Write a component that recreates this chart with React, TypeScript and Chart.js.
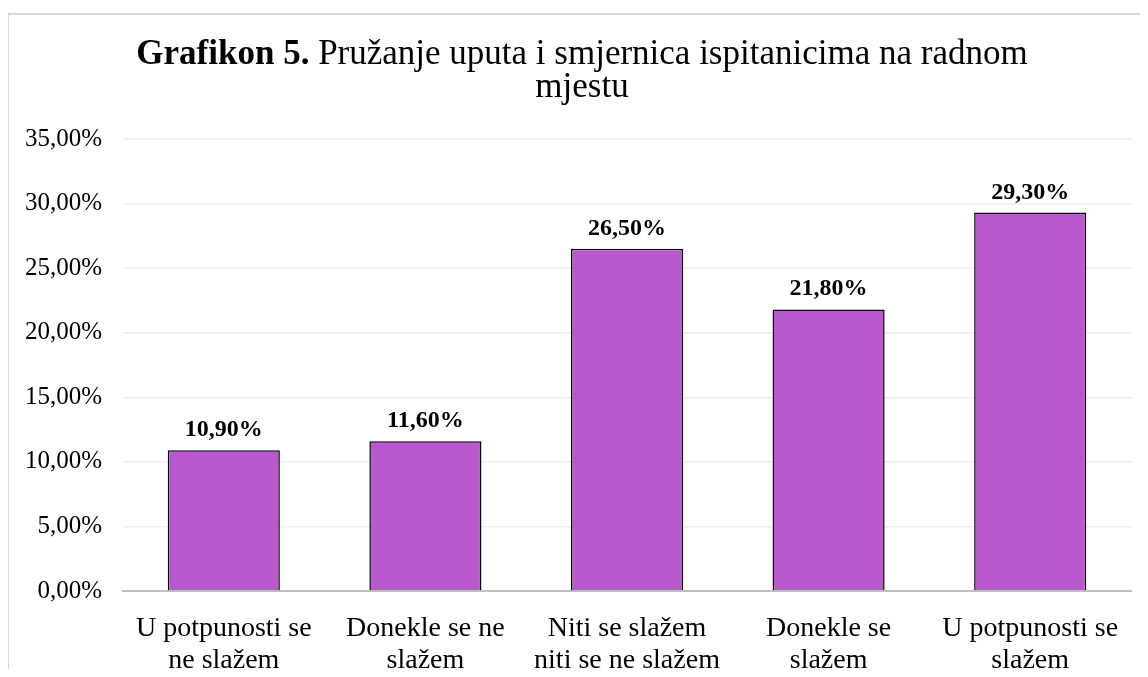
import React, { useEffect, useRef } from "react";
import { Chart, registerables } from "chart.js";

Chart.register(...registerables);

const categories: string[][] = [
  ["U potpunosti se", "ne slažem"],
  ["Donekle se ne", "slažem"],
  ["Niti se slažem", "niti se ne slažem"],
  ["Donekle se", "slažem"],
  ["U potpunosti se", "slažem"],
];
const values: number[] = [10.9, 11.6, 26.5, 21.8, 29.3];
const titleBold = "Grafikon 5.";
const titleRest = " Pružanje uputa i smjernica ispitanicima na radnom";
const titleLine2 = "mjestu";
const yMax = 35;
const yStep = 5;

const FONT = "'Liberation Serif', 'Times New Roman', serif";

const fmt = (v: number) => v.toFixed(2).replace(".", ",") + "%";

const titlePlugin = {
  id: "mixedTitle",
  afterDraw(chart: any) {
    const ctx = chart.ctx;
    ctx.save();
    ctx.fillStyle = "#000";
    ctx.textBaseline = "alphabetic";
    const cx = 582;
    ctx.font = `bold 35px ${FONT}`;
    const wb = ctx.measureText(titleBold).width;
    ctx.font = `35px ${FONT}`;
    const wr = ctx.measureText(titleRest).width;
    const x0 = cx - (wb + wr) / 2;
    ctx.textAlign = "left";
    ctx.font = `bold 35px ${FONT}`;
    ctx.fillText(titleBold, x0, 64);
    ctx.font = `35px ${FONT}`;
    ctx.fillText(titleRest, x0 + wb, 64);
    ctx.textAlign = "center";
    ctx.fillText(titleLine2, cx, 97);
    ctx.restore();
  },
};

const labelPlugin = {
  id: "barLabels",
  afterDatasetsDraw(chart: any) {
    const ctx = chart.ctx;
    const meta = chart.getDatasetMeta(0);
    ctx.save();
    ctx.fillStyle = "#000";
    ctx.font = `bold 24px ${FONT}`;
    ctx.textAlign = "center";
    ctx.textBaseline = "alphabetic";
    meta.data.forEach((bar: any, i: number) => {
      ctx.fillText(fmt(values[i]), bar.x, bar.y - 14);
    });
    ctx.restore();
  },
};

export default function App() {
  const ref = useRef<HTMLCanvasElement>(null);
  useEffect(() => {
    if (!ref.current) return;
    const chart = new Chart(ref.current, {
      type: "bar",
      data: {
        labels: categories,
        datasets: [
          {
            data: values,
            backgroundColor: "#B959CE",
            borderColor: "#000000",
            borderWidth: 1.5,
            barPercentage: 0.556,
            categoryPercentage: 1,
          },
        ],
      },
      options: {
        animation: false,
        responsive: false,
        devicePixelRatio: 1,
        layout: { padding: { top: 139, right: 17, left: 0, bottom: 0 } },
        plugins: {
          legend: { display: false },
          title: { display: false },
          tooltip: { enabled: false },
        },
        scales: {
          x: {
            grid: { display: false, drawTicks: false },
            border: { display: true, color: "#BFBFBF", width: 2 },
            ticks: {
              color: "#000",
              font: { family: FONT, size: 28, lineHeight: 32 / 28 },
              padding: 22,
              maxRotation: 0,
              autoSkip: false,
            },
            afterFit: (s: any) => {
              s.height = 86;
            },
          },
          y: {
            min: 0,
            max: yMax,
            grid: { color: "#EDEDED", lineWidth: 1.5, drawTicks: false },
            border: { display: false },
            ticks: {
              stepSize: yStep,
              color: "#000",
              font: { family: FONT, size: 25 },
              padding: 21,
              callback: (v: any) => fmt(Number(v)),
            },
            afterFit: (s: any) => {
              s.width = 123;
            },
          },
        },
      },
      plugins: [titlePlugin, labelPlugin],
    });
    return () => chart.destroy();
  }, []);

  return (
    <div style={{ position: "relative", width: 1148, height: 677, margin: -8, background: "#fff", overflow: "hidden" }}>
      <canvas ref={ref} width={1148} height={677} style={{ position: "absolute", left: 0, top: 0, width: 1148, height: 677 }} />
      <div
        style={{
          position: "absolute",
          left: 7,
          top: 13,
          width: 1160,
          height: 700,
          borderLeft: "2px solid #D9D9D9",
          borderTop: "2px solid #D9D9D9",
          pointerEvents: "none",
        }}
      />
    </div>
  );
}
